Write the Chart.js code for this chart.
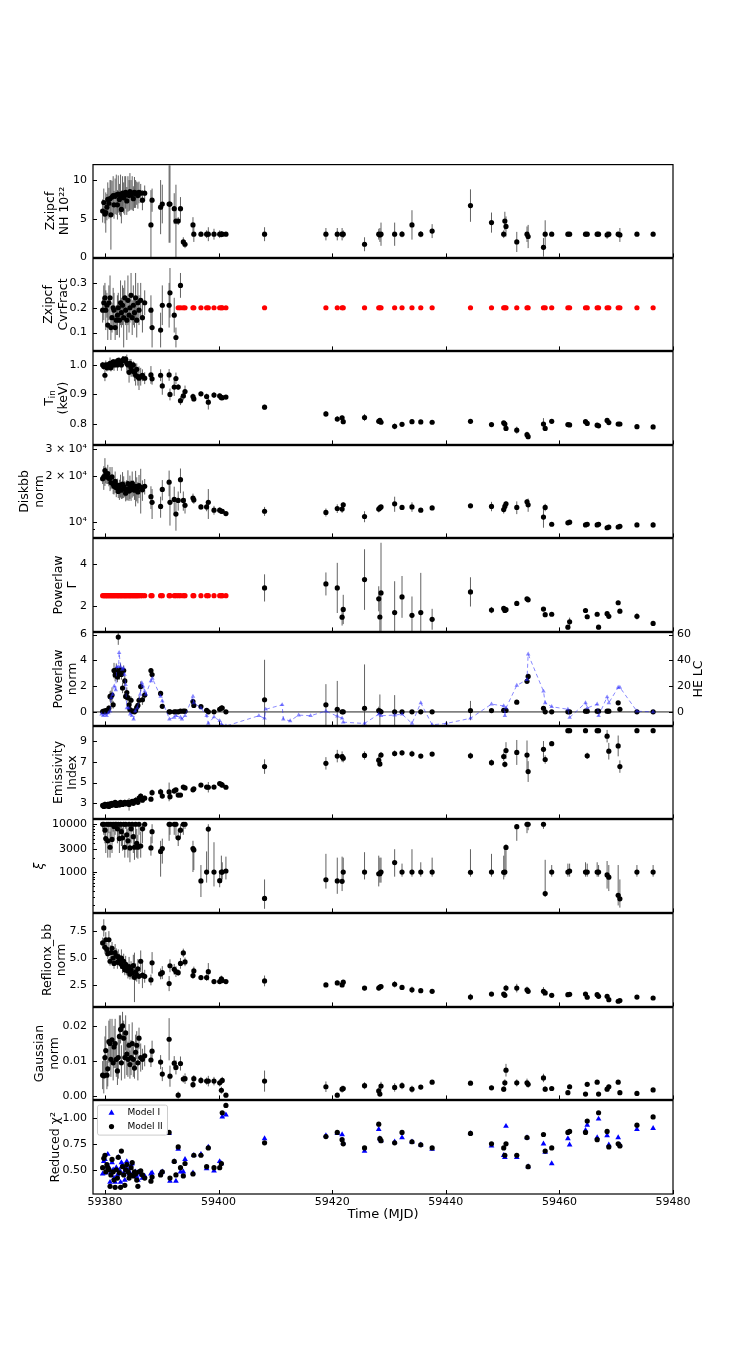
<!DOCTYPE html>
<html>
<head>
<meta charset="utf-8">
<script src="https://cdn.jsdelivr.net/npm/chart.js@4.4.0/dist/chart.umd.min.js"></script>
<style>
  body { margin: 0; background: #fff; }
  #fig { position: relative; width: 748px; height: 1365px; overflow: hidden; background: #fff; }
  #fig canvas { position: absolute; left: 0; }
</style>
</head>
<body>
<div id="fig"></div>
<script>
// observation times (MJD): the dense start of the outburst, then the later pointings
const mjdDense = [
  59379.6, 59379.8, 59380.0, 59380.15, 59380.35, 59380.5, 59380.7, 59380.9, 59381.05, 59381.25,
  59381.45, 59381.6, 59381.8, 59382.0, 59382.2, 59382.35, 59382.55, 59382.75, 59382.9, 59383.1,
  59383.3, 59383.5, 59383.65, 59383.85, 59384.05, 59384.25, 59384.4, 59384.6, 59384.8, 59385.0,
  59385.2, 59385.4, 59385.6, 59385.8, 59386.0, 59386.3, 59386.6, 59387.0
];
const mjdLate = [
  59388.1, 59388.3, 59389.8, 59390.1, 59391.3, 59391.45, 59392.2, 59392.5, 59392.9, 59393.3,
  59393.8, 59394.1, 59395.5, 59395.65, 59396.9, 59397.9, 59398.2, 59399.2, 59400.2, 59400.5,
  59400.65, 59401.3, 59408.1, 59418.9, 59420.9, 59421.75, 59421.95, 59425.7, 59428.2, 59428.4,
  59428.6, 59431.0, 59432.3, 59434.05, 59435.6, 59437.6, 59444.35, 59448.05, 59450.2, 59450.4,
  59450.6, 59452.5, 59454.3, 59454.5, 59457.2, 59457.5, 59458.65, 59461.5, 59461.8, 59464.6,
  59464.9, 59466.65, 59466.9, 59468.4, 59468.7, 59470.35, 59470.65, 59473.65, 59476.5
];
const mjd = mjdDense.concat(mjdLate);

// Zxipcf NH (1e22)
const nh = [
  6.0, 7.1, 5.6, 5.8, 6.5, 7.5, 7.0, 7.6, 5.5, 7.8,
  8.0, 6.8, 7.9, 8.1, 6.8, 8.2, 7.5, 8.0, 6.2, 8.3,
  7.7, 8.0, 8.4, 7.3, 8.2, 8.0, 8.5, 8.1, 8.3, 7.6,
  8.4, 8.2, 8.3, 8.0, 8.4, 8.3, 7.4, 8.3,
  4.2, 7.4, 6.5, 6.9, 6.9, 6.9, 6.3, 4.7, 4.7, 6.3,
  2.0, 1.7, 4.2, 3.0, 3.0, 3.0, 3.0, 3.0, 3.0, 3.0,
  3.0, 3.0, 3.0, 3.0, 3.0, 3.0, 3.0, 1.7, 3.0, 2.9,
  3.0, 3.0, 3.0, 4.2, 3.0, 3.4, 6.7, 4.5, 3.0, 4.7,
  4.0, 2.0, 3.0, 2.7, 1.3, 3.0, 3.0, 3.0, 3.0, 3.0,
  3.0, 3.0, 3.0, 2.9, 3.0, 3.0, 2.9, 3.0, 3.0
];
const nhErr = [
  1.5, 1.8, 1.2, 2.6, 1.7, 2.2, 2.0, 2.4, 4.5, 2.1,
  2.5, 1.8, 2.3, 2.6, 1.9, 2.4, 2.0, 2.7, 1.8, 2.2,
  2.0, 2.5, 2.1, 1.8, 2.3, 2.0, 2.4, 1.9, 2.2, 1.6,
  2.0, 1.8, 1.5, 1.7, 1.4, 1.2, 1.3, 1.0,
  4.5, 1.5, 3.5, 2.5, 5.0, 5.0, 2.0, 4.7, 0.5, 1.5,
  0.6, 0.5, 1.0, 1.0, 0.3, 0.5, 0.9, 0.7, 0.5, 0.4,
  0.3, 0.2, 0.9, 0.8, 0.8, 0.8, 0.5, 0.9, 0.7, 0.9,
  1.5, 1.5, 0.4, 1.9, 0.4, 0.9, 2.1, 1.3, 0.5, 1.2,
  1.3, 1.3, 1.0, 1.5, 1.2, 1.8, 0.2, 0.3, 0.2, 0.3,
  0.2, 0.3, 0.2, 0.5, 0.3, 0.3, 0.9, 0.2, 0.2
];

// Zxipcf covering fraction: free fits first, frozen at 0.2 afterwards (red)
const cvrFree = [
  0.19, 0.22, 0.24, 0.19, 0.21, 0.13, 0.22, 0.24, 0.12, 0.16,
  0.20, 0.19, 0.12, 0.15, 0.17, 0.20, 0.15, 0.22, 0.18, 0.21,
  0.16, 0.24, 0.19, 0.15, 0.23, 0.17, 0.20, 0.25, 0.16, 0.21,
  0.18, 0.24, 0.15, 0.22, 0.19, 0.23, 0.16, 0.22,
  0.19, 0.12, 0.11, 0.21, 0.21, 0.26, 0.17, 0.08, null, 0.29
];
const cvrFreeErr = [
  0.05, 0.07, 0.06, 0.08, 0.05, 0.06, 0.07, 0.09, 0.05, 0.06,
  0.08, 0.07, 0.05, 0.06, 0.08, 0.06, 0.07, 0.09, 0.06, 0.08,
  0.12, 0.07, 0.06, 0.08, 0.10, 0.07, 0.06, 0.09, 0.07, 0.08,
  0.06, 0.10, 0.07, 0.08, 0.06, 0.07, 0.06, 0.05,
  0.06, 0.08, 0.07, 0.08, 0.09, 0.10, 0.07, 0.04, null, 0.05
];
const cvrFixed = [ // from the 9th late pointing on
  0.2, 0.2, 0.2, 0.2, 0.2, 0.2, 0.2, 0.2, 0.2, 0.2,
  0.2, 0.2, 0.2, 0.2, 0.2, 0.2, 0.2, 0.2, 0.2, 0.2,
  0.2, 0.2, 0.2, 0.2, 0.2, 0.2, 0.2, 0.2, 0.2, 0.2,
  0.2, 0.2, 0.2, 0.2, 0.2, 0.2, 0.2, 0.2, 0.2, 0.2,
  0.2, 0.2, 0.2, 0.2, 0.2, 0.2, 0.2, 0.2, 0.2, 0.2,
  0.2
];

// inner disc temperature (keV)
const tin = [
  1.000, 0.995, 0.965, 1.000, 0.990, 1.000, 0.995, 1.005, 0.990, 1.000,
  1.010, 1.000, 1.005, 1.010, 1.000, 1.015, 1.010, 1.010, 1.000, 1.015,
  1.020, 1.015, 1.020, 1.005, 1.000, 0.975, 1.005, 0.990, 0.980, 1.000,
  0.975, 0.965, 0.985, 0.960, 0.955, 0.960, 0.965, 0.955,
  0.966, 0.953, 0.965, 0.929, 0.966, 0.900, 0.925, 0.954, 0.925, 0.879,
  0.895, 0.910, 0.893, 0.885, 0.902, 0.893, 0.874, 0.898, 0.895, 0.889,
  0.889, 0.891, 0.857, 0.834, 0.817, 0.821, 0.808, 0.822, 0.809, 0.812,
  0.806, 0.792, 0.799, 0.808, 0.807, 0.806, 0.809, 0.798, 0.804, 0.800,
  0.785, 0.779, 0.764, 0.757, 0.800, 0.785, 0.809, 0.798, 0.797, 0.808,
  0.802, 0.796, 0.794, 0.812, 0.805, 0.800, 0.800, 0.791, 0.790
];
const tinErr = [
  0.010, 0.012, 0.020, 0.015, 0.012, 0.010, 0.015, 0.020, 0.012, 0.015,
  0.010, 0.020, 0.015, 0.012, 0.020, 0.010, 0.015, 0.012, 0.020, 0.015,
  0.010, 0.012, 0.010, 0.030, 0.020, 0.035, 0.015, 0.030, 0.020, 0.012,
  0.030, 0.035, 0.020, 0.030, 0.040, 0.030, 0.020, 0.020,
  0.030, 0.020, 0.020, 0.030, 0.020, 0.020, 0.030, 0.020, 0.010, 0.015,
  0.015, 0.020, 0.010, 0.008, 0.008, 0.010, 0.025, 0.010, 0.008, 0.008,
  0.006, 0.005, 0.008, 0.010, 0.010, 0.008, 0.008, 0.012, 0.008, 0.006,
  0.006, 0.010, 0.006, 0.008, 0.005, 0.005, 0.006, 0.006, 0.006, 0.010,
  0.006, 0.012, 0.010, 0.008, 0.020, 0.008, 0.005, 0.004, 0.004, 0.005,
  0.004, 0.004, 0.004, 0.005, 0.006, 0.005, 0.004, 0.004, 0.004
];

// diskbb normalisation
const disk = [
  19300, 19800, 21800, 20500, 19800, 20800, 19400, 19500, 18200, 19800,
  17800, 17200, 18500, 16800, 17500, 15900, 16500, 17500, 16200, 17800,
  17200, 16600, 15500, 16400, 17900, 16000, 17200, 16300, 18000, 16800,
  16200, 17200, 16700, 15800, 17400, 16900, 16300, 17200,
  14700, 13500, 12700, 16400, 18300, 13500, 14100, 11300, 13900, 19000,
  13900, 12900, 14400, 14000, 12600, 12600, 13500, 12000, 12000, 11800,
  11800, 11400, 11800, 11600, 12300, 12200, 13000, 10900, 12200, 12400,
  12600, 13200, 12500, 12600, 12000, 12400, 12800, 12700, 12100, 12700,
  13200, 12500, 13600, 13000, 10800, 12500, 9700, 9900, 10000, 9600,
  9700, 9600, 9700, 9200, 9300, 9300, 9400, 9600, 9600
];
const diskErr = [
  1500, 3500, 4500, 2500, 2000, 3000, 2200, 3500, 1800, 3200,
  2500, 2000, 3000, 2200, 1800, 1500, 2500, 3000, 2000, 3500,
  2800, 2000, 1800, 2500, 4000, 2200, 3000, 2500, 3500, 2000,
  2200, 4500, 3000, 2500, 3000, 5500, 2500, 2000,
  2500, 3000, 2000, 2500, 3500, 4000, 3000, 2500, 2000, 3500,
  2000, 1500, 1000, 800, 500, 800, 3000, 800, 500, 400,
  300, 300, 800, 700, 800, 700, 500, 900, 600, 500,
  400, 1500, 300, 900, 300, 400, 400, 900, 700, 500,
  500, 1200, 600, 1300, 1600, 700, 300, 300, 300, 300,
  300, 300, 300, 300, 300, 250, 250, 250, 400
];

// powerlaw photon index: frozen at 2.5 early (red), free later
const gammaFixed = [
  2.5, 2.5, 2.5, 2.5, 2.5, 2.5, 2.5, 2.5, 2.5, 2.5,
  2.5, 2.5, 2.5, 2.5, 2.5, 2.5, 2.5, 2.5, 2.5, 2.5,
  2.5, 2.5, 2.5, 2.5, 2.5, 2.5, 2.5, 2.5, 2.5, 2.5,
  2.5, 2.5, 2.5, 2.5, 2.5, 2.5, 2.5, 2.5, 2.5, 2.5,
  2.5, 2.5, 2.5, 2.5, 2.5, 2.5, 2.5, 2.5, 2.5, 2.5,
  2.5, 2.5, 2.5, 2.5, 2.5, 2.5, 2.5, 2.5, 2.5, 2.5
];
const gammaFree = [ // from MJD 59408.1 on
  2.87, 3.06, 2.87, 1.47, 1.84, 3.27, 2.35, 1.48, 2.63, 1.69,
  2.44, 1.56, 1.69, 1.37, 2.68, 1.81, 1.89, 1.79, 1.83, 2.13,
  2.35, 2.30, 1.86, 1.59, 1.61, 0.99, 1.25, 1.79, 1.49, 1.61,
  0.99, 1.64, 1.51, 2.16, 1.76, 1.51, 1.17
];
const gammaFreeErr = [
  0.65, 0.55, 1.20, 0.40, 0.70, 1.45, 0.60, 1.10, 2.40, 1.50,
  1.00, 0.90, 1.90, 0.50, 0.70, 0.15, 0.10, 0.10, 0.10, 0.05,
  0.05, 0.05, 0.08, 0.08, 0.05, 0.10, 0.20, 0.10, 0.10, 0.10,
  0.10, 0.10, 0.10, 0.10, 0.10, 0.15, 0.08
];

// powerlaw normalisation
const pln = [
  0.03, 0.05, 0.00, 0.10, 0.05, 0.10, 0.30, 1.20, 1.15, 1.30,
  0.55, 3.20, 2.87, 3.26, 2.70, 5.80, 3.00, 3.26, 2.90, 1.85,
  3.20, 2.40, 1.20, 1.50, 1.10, 0.55, 0.18, 0.90, 0.05, 0.05,
  0.00, 0.10, 0.36, 0.50, 0.90, 1.97, 0.94, 1.30,
  3.20, 2.90, 1.43, 0.43, 0.00, 0.00, 0.00, 0.00, 0.00, 0.05,
  0.05, 0.05, 0.80, 0.50, 0.41, 0.12, 0.00, 0.00, 0.20, 0.30,
  0.30, 0.00, 0.94, 0.55, 0.20, 0.00, 0.00, 0.28, 0.10, 0.05,
  0.00, 0.00, 0.00, 0.00, 0.00, 0.00, 0.10, 0.10, 0.12, 0.12,
  0.12, 0.75, 2.37, 2.75, 0.28, 0.00, 0.00, 0.00, 0.00, 0.05,
  0.05, 0.05, 0.05, 0.05, 0.05, 0.70, 0.20, 0.00, 0.00
];
const plnErr = [
  0.10, 0.15, 0.10, 0.20, 0.10, 0.15, 0.20, 0.40, 0.50, 0.60,
  0.30, 0.60, 0.50, 0.50, 0.40, 0.60, 0.50, 0.50, 0.40, 0.40,
  0.40, 0.40, 0.30, 0.40, 0.30, 0.20, 0.15, 0.30, 0.10, 0.10,
  0.10, 0.15, 0.20, 0.20, 0.30, 0.40, 0.40, 0.30,
  0.20, 0.30, 0.20, 0.15, 0.10, 0.10, 0.10, 0.10, 0.10, 0.10,
  0.10, 0.10, 0.20, 0.10, 0.10, 0.10, 0.10, 0.10, 0.10, 0.20,
  0.20, 0.10, 3.10, 1.60, 2.20, 0.10, 0.10, 3.40, 0.30, 1.30,
  0.20, 1.30, 0.10, 0.10, 0.10, 0.10, 0.75, 0.10, 0.10, 0.10,
  0.10, 0.10, 0.10, 0.15, 0.10, 0.10, 0.10, 0.10, 0.10, 0.10,
  0.10, 0.10, 0.10, 0.10, 0.10, 0.10, 0.10, 0.05, 0.05
];

// hard X-ray light curve (right axis of the powerlaw norm panel)
const heMjd = [
  59379.4, 59379.7, 59380.0, 59380.3, 59380.6, 59380.9, 59381.1, 59381.35, 59381.65, 59381.9,
  59382.1, 59382.4, 59382.5, 59382.75, 59383.05, 59383.25, 59383.45, 59383.65, 59383.85, 59384.15,
  59384.45, 59384.75, 59385.05, 59385.35, 59385.7, 59386.2, 59386.5, 59386.7, 59387.0, 59387.2,
  59388.1, 59388.35, 59389.8, 59390.1, 59391.35, 59392.2, 59392.5, 59393.3, 59393.55, 59394.1,
  59395.5, 59395.65, 59396.9, 59397.9, 59398.2, 59399.2, 59400.2, 59400.5, 59401.3, 59407.1,
  59408.1, 59408.3, 59411.2, 59411.4, 59412.6, 59414.1, 59416.2, 59418.9, 59420.9, 59421.75,
  59421.95, 59425.7, 59428.2, 59428.6, 59431.0, 59432.3, 59434.05, 59435.6, 59437.6, 59440.1,
  59444.35, 59448.05, 59450.2, 59450.4, 59450.6, 59452.5, 59454.3, 59454.5, 59457.2, 59457.5,
  59458.65, 59461.5, 59461.8, 59464.6, 59464.9, 59466.65, 59466.9, 59468.4, 59468.7, 59470.35,
  59470.65, 59473.65, 59476.5
];
const heRate = [
  -1.8, -3, -1.8, -3, -0.8, 0.5, 11, 13.5, 20, 17,
  35, 35, 46, 35, 33, 34, 29, 21, 3, 3,
  -1.8, -3, -5.6, 0.7, 3, 13.6, 22.5, 20, 16, 13.6,
  23.9, 26, 12, 8.4, -5.6, -4.3, -3, -4.3, -5.6, -3,
  12, 7, 3, -3, -9, -4, -6.9, -9.5, -11, -3,
  -5, 2, 5.5, -5.6, -7, -2.5, -3, 0.6, -3.4, -5,
  -8, -9, -1.8, -3, -2.5, -1.8, -9, 7, -10, -9,
  -5, 6, 4.6, -3, 3, 20.5, 25, 44.8, 16, 7,
  4, 2, -4.4, 7, 3, 6, -3, 11.5, 7, 19,
  19, 0.5, 0
];

// emissivity index
const emis = [
  2.80, 2.70, 2.90, 2.75, 2.85, 2.90, 2.70, 2.95, 2.80, 3.00,
  2.85, 2.90, 3.10, 2.80, 2.95, 3.00, 2.85, 3.10, 3.00, 2.90,
  3.05, 3.10, 2.95, 3.00, 3.10, 2.90, 3.05, 3.10, 3.20, 3.00,
  3.15, 3.30, 3.20, 3.10, 3.50, 3.70, 3.30, 3.50,
  3.40, 4.03, 4.10, 3.70, 4.10, 3.64, 4.20, 4.30, 3.80, 3.80,
  4.57, 4.48, 4.30, 4.40, 4.76, 4.57, 4.55, 4.57, 4.90, 4.83,
  4.75, 4.55, 6.54, 6.85, 7.55, 7.50, 7.35, 7.61, 7.16, 6.80,
  7.65, 7.80, 7.86, 7.77, 7.55, 7.74, 7.58, 6.92, 7.50, 6.76,
  8.09, 7.90, 7.65, 6.06, 8.20, 7.22, 8.75, 10.0, 10.0, 10.0,
  7.58, 10.0, 10.0, 9.47, 8.02, 8.53, 6.54, 10.0, 10.0
];
const emisErr = [
  0.20, 0.20, 0.25, 0.20, 0.20, 0.25, 0.20, 0.20, 0.25, 0.20,
  0.20, 0.25, 0.20, 0.25, 0.20, 0.20, 0.25, 0.20, 0.30, 0.20,
  0.20, 0.25, 0.20, 0.20, 0.25, 0.60, 0.20, 0.25, 0.20, 0.20,
  0.25, 0.30, 0.20, 0.25, 0.30, 0.25, 0.20, 0.25,
  0.20, 0.30, 0.30, 0.20, 0.90, 0.30, 0.30, 0.20, 0.20, 0.15,
  0.20, 0.15, 0.15, 0.15, 0.15, 0.20, 0.50, 0.15, 0.15, 0.15,
  0.15, 0.10, 0.70, 0.60, 0.60, 0.50, 0.40, 0.40, 0.50, 0.30,
  0.30, 0.30, 0.25, 0.30, 0.20, 0.20, 0.30, 0.30, 0.40, 0.30,
  0.80, 1.20, 1.40, 1.00, 0.80, 0.40, 0.20, 0.10, 0.10, 0.10,
  0.30, 0.10, 0.10, 0.60, 0.80, 1.00, 0.60, 0.10, 0.10
];

// ionisation parameter xi with lower / upper error-bar ends
const xi = [
  10000, 10000, 7500, 5000, 10000, 4500, 10000, 3300, 10000, 4800,
  10000, 9000, 10000, 10000, 8000, 10000, 5000, 10000, 7000, 5200,
  10000, 3300, 10000, 6000, 4500, 10000, 3200, 8000, 10000, 5500,
  3300, 10000, 4000, 3300, 10000, 3500, 8000, 10000,
  3200, 7000, 2700, 3100, 10000, 10000, 10000, 10000, 5200, 7500,
  10000, 10000, 3100, 2900, 650, 1000, 7900, 1000, 660, 1000,
  1000, 1050, 280, 690, 650, 640, 1000, 1000, 920, 920,
  1000, 1580, 1000, 1000, 1000, 1000, 990, 1000, 990, 1000,
  3270, 8900, 10000, 10000, 10000, 355, 1000, 1000, 1050, 1000,
  1000, 1000, 1000, 870, 780, 325, 275, 1000, 1000
];
const xiLo = [
  8000, 6000, 4000, 2500, 7000, 2000, 6500, 2000, 5000, 2500,
  7000, 5000, 6000, 8000, 4000, 5500, 2500, 7000, 3500, 2800,
  6000, 2000, 8000, 3000, 2000, 6000, 1600, 4000, 7000, 2500,
  1800, 5000, 2000, 1900, 6000, 2000, 4000, 7500,
  2200, 4000, 800, 1500, 4500, 6000, 6000, 5000, 3500, 5000,
  6000, 8000, 1000, 1100, 300, 600, 1000, 500, 480, 600,
  700, 700, 170, 450, 350, 400, 700, 700, 500, 600,
  600, 800, 800, 800, 800, 800, 800, 800, 700, 800,
  900, 4500, 6500, 7500, 8000, 300, 800, 800, 800, 800,
  800, 800, 800, 450, 400, 200, 180, 800, 800
];
const xiHi = [
  10000, 10000, 10000, 8000, 10000, 8000, 10000, 7000, 10000, 9000,
  10000, 10000, 10000, 10000, 10000, 10000, 9000, 10000, 10000, 8500,
  10000, 6500, 10000, 10000, 8000, 10000, 6000, 10000, 10000, 10000,
  6000, 10000, 8000, 6000, 10000, 7000, 10000, 10000,
  5500, 10000, 4500, 5000, 10000, 10000, 10000, 10000, 8000, 10000,
  10000, 10000, 4500, 3500, 1400, 2700, 10000, 4200, 1000, 2200,
  1600, 2100, 700, 2400, 2000, 2100, 2000, 2600, 2200, 2000,
  2000, 3000, 1500, 3000, 1600, 2000, 3000, 2400, 2200, 3000,
  3800, 10000, 10000, 10000, 10000, 1800, 1400, 1500, 1500, 1600,
  1500, 1600, 1400, 1700, 1400, 1400, 700, 1400, 1400
];

// reflionx_bb normalisation
const refl = [
  6.4, 7.8, 6.0, 6.7, 5.8, 5.4, 6.7, 4.7, 5.5, 5.9,
  5.0, 4.5, 5.5, 5.2, 4.6, 5.1, 4.8, 4.5, 5.0, 4.2,
  4.7, 3.9, 4.4, 4.0, 3.8, 4.2, 3.5, 3.9, 3.6, 4.3,
  3.2, 3.7, 3.4, 4.0, 3.3, 4.7, 3.4, 3.3,
  2.96, 4.55, 3.52, 3.64, 2.62, 4.28, 3.95, 3.73, 3.64, 4.50,
  5.47, 4.64, 3.37, 3.80, 3.18, 3.18, 3.73, 2.81, 2.81, 3.06,
  2.90, 2.81, 2.87, 2.50, 2.68, 2.50, 2.75, 2.20, 2.20, 2.30,
  2.35, 2.56, 2.26, 2.04, 1.96, 1.90, 1.37, 1.65, 1.65, 1.53,
  2.20, 2.20, 2.04, 1.90, 1.90, 1.75, 1.53, 1.59, 1.62, 1.65,
  1.35, 1.59, 1.44, 1.44, 1.13, 0.98, 1.04, 1.37, 1.28
];
const reflErr = [
  0.5, 0.8, 0.6, 0.7, 0.6, 0.5, 0.8, 0.4, 0.7, 0.6,
  0.6, 0.5, 0.8, 0.7, 0.6, 0.7, 0.6, 0.5, 0.8, 0.6,
  0.7, 0.5, 0.8, 0.6, 0.7, 0.9, 0.5, 0.8, 0.6, 1.0,
  2.3, 0.8, 0.6, 0.9, 0.7, 1.0, 1.2, 0.6,
  0.5, 1.0, 0.5, 0.6, 0.7, 0.6, 0.5, 0.5, 0.3, 0.5,
  0.4, 0.4, 0.3, 0.4, 0.2, 0.3, 0.8, 0.2, 0.2, 0.3,
  0.2, 0.15, 0.5, 0.2, 0.2, 0.2, 0.2, 0.2, 0.2, 0.2,
  0.2, 0.3, 0.15, 0.3, 0.1, 0.1, 0.3, 0.15, 0.15, 0.15,
  0.3, 0.4, 0.3, 0.2, 0.4, 0.2, 0.1, 0.1, 0.1, 0.1,
  0.1, 0.15, 0.1, 0.1, 0.15, 0.1, 0.1, 0.08, 0.15
];

// gaussian line normalisation
const gauss = [
  0.0060, 0.0058, 0.0110, 0.0130, 0.0060, 0.0078, 0.0155, 0.0150, 0.0105, 0.0160,
  0.0095, 0.0140, 0.0150, 0.0105, 0.0072, 0.0110, 0.0170, 0.0190, 0.0095, 0.0200,
  0.0165, 0.0110, 0.0180, 0.0120, 0.0105, 0.0145, 0.0090, 0.0110, 0.0150, 0.0105,
  0.0080, 0.0125, 0.0145, 0.0095, 0.0165, 0.0110, 0.0105, 0.0115,
  0.0103, 0.0128, 0.0097, 0.0063, 0.0162, 0.0057, 0.0094, 0.0082, 0.0003, 0.0093,
  0.0049, 0.0050, 0.0033, 0.0050, 0.0045, 0.0043, 0.0043, 0.0043, 0.0038, 0.0017,
  0.0045, 0.0003, 0.0043, 0.0027, 0.0003, 0.0020, 0.0022, 0.0030, 0.0015, 0.0006,
  0.0029, 0.0025, 0.0030, 0.0020, 0.0026, 0.0040, 0.0037, 0.0024, 0.0020, 0.0038,
  0.0074, 0.0038, 0.0038, 0.0034, 0.0052, 0.0020, 0.0022, 0.0010, 0.0027, 0.0006,
  0.0034, 0.0040, 0.0006, 0.0020, 0.0027, 0.0040, 0.0010, 0.0008, 0.0018
];
const gaussErr = [
  0.004, 0.005, 0.006, 0.007, 0.004, 0.005, 0.006, 0.007, 0.005, 0.006,
  0.005, 0.006, 0.007, 0.005, 0.004, 0.006, 0.006, 0.004, 0.005, 0.004,
  0.005, 0.006, 0.005, 0.006, 0.005, 0.006, 0.004, 0.005, 0.006, 0.005,
  0.003, 0.005, 0.004, 0.005, 0.003, 0.004, 0.003, 0.003,
  0.002, 0.003, 0.002, 0.002, 0.006, 0.003, 0.002, 0.002, 0.001, 0.002,
  0.001, 0.0015, 0.001, 0.001, 0.001, 0.001, 0.0015, 0.0012, 0.001, 0.001,
  0.001, 0.0006, 0.003, 0.0015, 0.0005, 0.001, 0.0008, 0.001, 0.001, 0.0005,
  0.0012, 0.0012, 0.001, 0.001, 0.0006, 0.0005, 0.0005, 0.0006, 0.0008, 0.001,
  0.0018, 0.001, 0.0012, 0.001, 0.0012, 0.0008, 0.0005, 0.0005, 0.0006, 0.0005,
  0.0005, 0.0005, 0.0005, 0.0006, 0.0006, 0.0005, 0.0006, 0.0004, 0.0004
];

// reduced chi^2 of the two models
const chiModel1 = [
  0.46, 0.58, 0.60, 0.47, 0.53, 0.65, 0.52, 0.38, 0.48, 0.57,
  0.50, 0.42, 0.38, 0.52, 0.45, 0.62, 0.50, 0.38, 0.57, 0.55,
  0.47, 0.40, 0.52, 0.58, 0.50, 0.46, 0.47, 0.55, 0.56, 0.46,
  0.45, 0.48, 0.43, 0.40, 0.47, 0.45, 0.42, 0.44,
  0.46, 0.47, 0.47, 0.48, 0.85, 0.39, 0.58, 0.39, 0.70, 0.48,
  0.48, 0.60, 0.47, 0.64, 0.65, 0.51, 0.72, 0.49, 0.58, 0.56,
  1.01, 1.03, 0.80, 0.83, 0.85, 0.84, 0.76, 0.68, 0.89, 0.80,
  0.78, 0.77, 0.81, 0.77, 0.74, 0.70, 0.85, 0.73, 0.64, 0.62,
  0.92, 0.62, 0.81, 0.53, 0.75, 0.67, 0.56, 0.80, 0.74, 0.88,
  0.93, 0.81, 0.99, 0.83, 0.74, 0.81, 0.74, 0.89, 0.90
];
const chiModel2 = [
  0.52, 0.61, 0.64, 0.48, 0.55, 0.52, 0.50, 0.34, 0.45, 0.60,
  0.48, 0.40, 0.33, 0.50, 0.42, 0.62, 0.47, 0.33, 0.68, 0.53,
  0.45, 0.35, 0.50, 0.55, 0.48, 0.42, 0.45, 0.52, 0.57, 0.44,
  0.48, 0.46, 0.40, 0.34, 0.48, 0.49, 0.45, 0.42,
  0.39, 0.43, 0.45, 0.48, 0.86, 0.42, 0.58, 0.45, 0.72, 0.52,
  0.44, 0.56, 0.46, 0.64, 0.64, 0.53, 0.71, 0.52, 0.52, 0.56,
  1.05, 1.12, 0.76, 0.82, 0.86, 0.79, 0.75, 0.71, 0.94, 0.80,
  0.78, 0.76, 0.86, 0.77, 0.74, 0.71, 0.85, 0.75, 0.71, 0.64,
  0.75, 0.64, 0.81, 0.53, 0.84, 0.68, 0.71, 0.86, 0.87, 0.86,
  0.97, 0.79, 1.05, 0.87, 0.72, 0.75, 0.73, 0.93, 1.01
];

// tick values and labels
const xTicks = [59380, 59400, 59420, 59440, 59460, 59480];
const nhTicks = [0, 5, 10], nhLabels = ['0', '5', '10'];
const cvrTicks = [0.1, 0.2, 0.3], cvrLabels = ['0.1', '0.2', '0.3'];
const tinTicks = [0.8, 0.9, 1.0], tinLabels = ['0.8', '0.9', '1.0'];
const diskTicks = [10000, 20000, 30000], diskLabels = ['10⁴', '2 × 10⁴', '3 × 10⁴'];
const diskMinor = [8000, 9000];
const gammaTicks = [2, 4], gammaLabels = ['2', '4'];
const plnTicks = [0, 2, 4, 6], plnLabels = ['0', '2', '4', '6'];
const heTicks = [0, 20, 40, 60], heLabels = ['0', '20', '40', '60'];
const emisTicks = [3, 5, 7, 9], emisLabels = ['3', '5', '7', '9'];
const xiTicks = [1000, 3000, 10000], xiLabels = ['1000', '3000', '10000'];
const xiMinor = [200, 300, 400, 500, 600, 700, 800, 900, 2000, 4000, 5000, 6000, 7000, 8000, 9000];
const reflTicks = [2.5, 5.0, 7.5], reflLabels = ['2.5', '5.0', '7.5'];
const gaussTicks = [0, 0.01, 0.02], gaussLabels = ['0.00', '0.01', '0.02'];
const chiTicks = [0.5, 0.75, 1.0], chiLabels = ['0.50', '0.75', '1.00'];

// ---- layout ----
const W = 748;
const plotLeft = 93;
const plotRightPad = 75;
const edges = [164, 258, 351, 445, 538, 632, 726, 819, 913, 1007, 1100, 1194];
const xMin = 59377.9, xMax = 59480;
const PAD = 12;
const titleSize = 12.5, titleLH = 1.15;
const FONT = "'DejaVu Sans', 'Noto Sans', sans-serif";

Chart.defaults.font.family = FONT;
Chart.defaults.font.size = 11;
Chart.defaults.color = '#000';

const BLACK = '#000000', RED = '#ff0000', BLUE = '#0000ff';

const panels = [
  { title: ['Zxipcf', 'NH 10²²'], titleX: 50.5, min: 0, max: 12, ticks: nhTicks, labels: nhLabels,
    sets: [{ v: nh, err: nhErr, color: BLACK }] },
  { title: ['Zxipcf', 'CvrFract'], titleX: 49, min: 0.028, max: 0.398, ticks: cvrTicks, labels: cvrLabels,
    sets: [{ v: cvrFree, err: cvrFreeErr, color: BLACK }, { v: cvrFixed, start: 46, color: RED }] },
  { rich: [[['T'], ['in', 'sub']], [['(keV)']]], titleX: 49.5, min: 0.731, max: 1.045, ticks: tinTicks, labels: tinLabels,
    sets: [{ v: tin, err: tinErr, color: BLACK }] },
  { title: ['Diskbb', 'norm'], titleX: 25, log: true, min: 7950, max: 31800, ticks: diskTicks, labels: diskLabels,
    minor: diskMinor, sets: [{ v: disk, err: diskErr, color: BLACK }] },
  { title: ['Powerlaw', 'Γ'], titleX: 58.3, min: 0.79, max: 5.23, ticks: gammaTicks, labels: gammaLabels,
    sets: [{ v: gammaFixed, color: RED }, { v: gammaFree, err: gammaFreeErr, start: 60, color: BLACK }] },
  { title: ['Powerlaw', 'norm'], titleX: 58.3, min: -1.05, max: 6.15, ticks: plnTicks, labels: plnLabels,
    zero: true, right: { min: -10.5, max: 61.5, ticks: heTicks, labels: heLabels, title: 'HE LC' },
    sets: [{ v: pln, err: plnErr, color: BLACK },
           { t: heMjd, v: heRate, axis: 'yR', line: true, style: 'triangle', r: 2.6, color: 'rgba(40,40,255,0.55)', order: 0 }] },
  { title: ['Emissivity', 'Index'], titleX: 58.3, min: 1.55, max: 10.39, ticks: emisTicks, labels: emisLabels,
    sets: [{ v: emis, err: emisErr, color: BLACK }] },
  { title: 'ξ', italic: true, titleX: 39.3, log: true, min: 143, max: 12500, ticks: xiTicks, labels: xiLabels,
    minor: xiMinor, sets: [{ v: xi, lo: xiLo, hi: xiHi, color: BLACK }] },
  { title: ['Reflionx_bb', 'norm'], titleX: 47.5, min: 0.5, max: 9.13, ticks: reflTicks, labels: reflLabels,
    sets: [{ v: refl, err: reflErr, color: BLACK }] },
  { title: ['Gaussian', 'norm'], titleX: 40, min: -0.0009, max: 0.0252, ticks: gaussTicks, labels: gaussLabels,
    sets: [{ v: gauss, err: gaussErr, color: BLACK }] },
  { title: 'Reduced χ²', titleX: 55.7, min: 0.266, max: 1.167, ticks: chiTicks, labels: chiLabels, legend: true,
    sets: [{ v: chiModel1, color: BLUE, style: 'triangle', r: 3.3, label: 'Model I', order: 2 },
           { v: chiModel2, color: BLACK, label: 'Model II', order: 1 }] }
];

// ---- helpers ----
function points(times, vals, start) {
  const out = [];
  vals.forEach((y, i) => { if (y !== null) out.push({ x: times[start + i], y: y }); });
  return out;
}
function bars(times, vals, lo, hi, start, floor) {
  const out = [];
  vals.forEach((y, i) => {
    if (y === null) return;
    const t = times[start + i];
    out.push({ x: t, y: Math.max(lo[i], floor) }, { x: t, y: hi[i] }, { x: t, y: null });
  });
  return out;
}

// ---- plugins ----
const frame = {
  id: 'frame',
  afterDraw(chart) {
    const { ctx, chartArea: a } = chart;
    ctx.save();
    ctx.strokeStyle = '#000';
    ctx.lineWidth = 1.2;
    ctx.strokeRect(a.left, a.top, a.right - a.left, a.bottom - a.top);
    ctx.restore();
  }
};

const inTicks = {
  id: 'inTicks',
  afterDraw(chart, args, opts) {
    const { ctx, chartArea: a, scales } = chart;
    ctx.save();
    ctx.strokeStyle = '#000';
    ctx.lineWidth = 1;
    ctx.beginPath();
    xTicks.forEach(v => {
      const p = Math.round(scales.x.getPixelForValue(v)) + 0.5;
      ctx.moveTo(p, a.bottom); ctx.lineTo(p, a.bottom - 4);
    });
    scales.y.ticks.forEach(t => {
      const p = Math.round(scales.y.getPixelForValue(t.value)) + 0.5;
      ctx.moveTo(a.left, p); ctx.lineTo(a.left + 4, p);
    });
    (opts.minor || []).forEach(v => {
      const p = Math.round(scales.y.getPixelForValue(v)) + 0.5;
      if (p > a.top && p < a.bottom) { ctx.moveTo(a.left, p); ctx.lineTo(a.left + 2, p); }
    });
    if (scales.yR) {
      scales.yR.ticks.forEach(t => {
        const p = Math.round(scales.yR.getPixelForValue(t.value)) + 0.5;
        ctx.moveTo(a.right, p); ctx.lineTo(a.right - 4, p);
      });
    }
    ctx.stroke();
    ctx.restore();
  }
};

const zeroLine = {
  id: 'zeroLine',
  beforeDatasetsDraw(chart, args, opts) {
    if (!opts.show) return;
    const { ctx, chartArea: a } = chart;
    const y = chart.scales.y.getPixelForValue(0);
    ctx.save();
    ctx.strokeStyle = '#808080';
    ctx.lineWidth = 1.6;
    ctx.beginPath(); ctx.moveTo(a.left, y); ctx.lineTo(a.right, y); ctx.stroke();
    ctx.restore();
  }
};

// right-hand axis title, read bottom to top like the left titles
const rightTitle = {
  id: 'rightTitle',
  afterDraw(chart, args, opts) {
    if (!opts.text) return;
    const { ctx, chartArea: a } = chart;
    ctx.save();
    ctx.translate(a.right + 26, (a.top + a.bottom) / 2);
    ctx.rotate(-Math.PI / 2);
    ctx.font = titleSize + 'px ' + FONT;
    ctx.fillStyle = '#000';
    ctx.textAlign = 'center';
    ctx.textBaseline = 'middle';
    ctx.fillText(opts.text, 0, 0);
    ctx.restore();
  }
};

// left title with a real subscript (T_in)
const richTitle = {
  id: 'richTitle',
  afterDraw(chart, args, opts) {
    if (!opts.lines) return;
    const { ctx, chartArea: a } = chart;
    const lh = titleSize * titleLH;
    const big = titleSize + 'px ' + FONT, small = (titleSize * 0.7).toFixed(1) + 'px ' + FONT;
    ctx.save();
    ctx.fillStyle = '#000';
    ctx.textBaseline = 'middle';
    ctx.textAlign = 'left';
    opts.lines.forEach((line, k) => {
      let w = 0;
      line.forEach(seg => { ctx.font = seg[1] ? small : big; w += ctx.measureText(seg[0]).width; });
      ctx.save();
      ctx.translate(opts.x + k * lh, (a.top + a.bottom) / 2);
      ctx.rotate(-Math.PI / 2);
      let x = -w / 2;
      line.forEach(seg => {
        ctx.font = seg[1] ? small : big;
        ctx.fillText(seg[0], x, seg[1] ? 3 : 0);
        x += ctx.measureText(seg[0]).width;
      });
      ctx.restore();
    });
    ctx.restore();
  }
};

const modelLegend = {
  id: 'modelLegend',
  afterDatasetsDraw(chart, args, opts) {
    if (!opts.show) return;
    const { ctx, chartArea: a } = chart;
    const x0 = a.left + 4.5, y0 = a.top + 4.5;
    ctx.save();
    ctx.fillStyle = 'rgba(255,255,255,0.85)';
    ctx.strokeStyle = '#cccccc';
    ctx.lineWidth = 1;
    ctx.beginPath();
    ctx.roundRect(x0, y0, 70, 30, 2);
    ctx.fill(); ctx.stroke();
    ctx.font = '9px ' + FONT;
    ctx.textBaseline = 'middle';
    ctx.textAlign = 'left';
    const items = chart.data.datasets.filter(d => d.label);
    items.forEach((d, k) => {
      const cx = x0 + 14, cy = y0 + 7.5 + k * 14;
      ctx.fillStyle = d.pointBackgroundColor;
      ctx.beginPath();
      if (d.pointStyle === 'triangle') {
        ctx.moveTo(cx, cy - 3.2); ctx.lineTo(cx + 3, cy + 2.2); ctx.lineTo(cx - 3, cy + 2.2); ctx.closePath();
      } else {
        ctx.arc(cx, cy, 2.6, 0, Math.PI * 2);
      }
      ctx.fill();
      ctx.fillStyle = '#000';
      ctx.fillText(d.label, x0 + 30, cy);
    });
    ctx.restore();
  }
};

// ---- build panels ----
const fig = document.getElementById('fig');

panels.forEach((p, i) => {
  const top = edges[i], h = edges[i + 1] - edges[i];
  const last = i === panels.length - 1;
  const xh = last ? 28 : 0;
  const cv = document.createElement('canvas');
  cv.width = W;
  cv.height = h + 2 * PAD + xh;
  cv.style.top = (top - PAD) + 'px';
  fig.appendChild(cv);

  const padLeft = p.titleX - titleSize * titleLH / 2;
  const rightW = p.right ? 40 : 0;

  const datasets = [];
  p.sets.forEach(s => {
    const times = s.t || mjd;
    const start = s.start || 0;
    if (s.err || s.lo) {
      const lo = s.lo || s.v.map((y, k) => y === null ? null : y - s.err[k]);
      const hi = s.hi || s.v.map((y, k) => y === null ? null : y + s.err[k]);
      datasets.push({
        data: bars(times, s.v, lo, hi, start, p.min),
        showLine: true, spanGaps: false,
        borderColor: 'rgba(70,70,70,0.85)', borderWidth: 1,
        pointRadius: 0, order: 5
      });
    }
    const ds = {
      label: s.label,
      data: points(times, s.v, start),
      yAxisID: s.axis || 'y',
      pointStyle: s.style || 'circle',
      pointRadius: s.r || 2.6,
      pointBackgroundColor: s.color,
      pointBorderWidth: 0,
      order: s.order !== undefined ? s.order : 2
    };
    if (s.line) {
      ds.showLine = true;
      ds.borderColor = s.color;
      ds.borderWidth = 1;
      ds.borderDash = [4, 3];
    }
    datasets.push(ds);
  });

  const scales = {
    x: {
      type: 'linear', min: xMin, max: xMax, display: last,
      afterBuildTicks: s => { s.ticks = xTicks.map(v => ({ value: v })); },
      afterFit: s => { s.height = xh; },
      grid: { display: false, drawTicks: false }, border: { display: false },
      ticks: { padding: 2, autoSkip: false, maxRotation: 0, callback: v => String(v) },
      title: { display: true, text: 'Time (MJD)', font: { size: 13 }, padding: 0 }
    },
    y: {
      type: p.log ? 'logarithmic' : 'linear', position: 'left', min: p.min, max: p.max,
      afterBuildTicks: s => { s.ticks = p.ticks.map(v => ({ value: v })); },
      afterFit: s => { s.width = plotLeft - padLeft; },
      grid: { display: false, drawTicks: false }, border: { display: false },
      ticks: { padding: 6, autoSkip: false, callback: (v, k) => p.labels[k] },
      title: {
        display: !p.rich, text: p.title || '', padding: 0,
        font: { size: titleSize, lineHeight: titleLH, style: p.italic ? 'italic' : 'normal' }
      }
    }
  };
  if (p.right) {
    scales.yR = {
      type: 'linear', position: 'right', min: p.right.min, max: p.right.max,
      afterBuildTicks: s => { s.ticks = p.right.ticks.map(v => ({ value: v })); },
      afterFit: s => { s.width = rightW; },
      grid: { display: false, drawTicks: false }, border: { display: false },
      ticks: { padding: 4, autoSkip: false, callback: (v, k) => p.right.labels[k] }
    };
  }

  new Chart(cv, {
    type: 'scatter',
    data: { datasets },
    options: {
      responsive: false,
      animation: false,
      devicePixelRatio: 1,
      events: [],
      layout: { padding: { left: padLeft, right: plotRightPad - rightW, top: PAD, bottom: PAD } },
      plugins: {
        legend: { display: false },
        tooltip: { enabled: false },
        inTicks: { minor: p.minor || [] },
        zeroLine: { show: !!p.zero },
        rightTitle: { text: p.right ? p.right.title : null },
        richTitle: { lines: p.rich || null, x: p.titleX },
        modelLegend: { show: !!p.legend }
      },
      scales
    },
    plugins: [zeroLine, frame, inTicks, rightTitle, richTitle, modelLegend]
  });
});
</script>
</body>
</html>
